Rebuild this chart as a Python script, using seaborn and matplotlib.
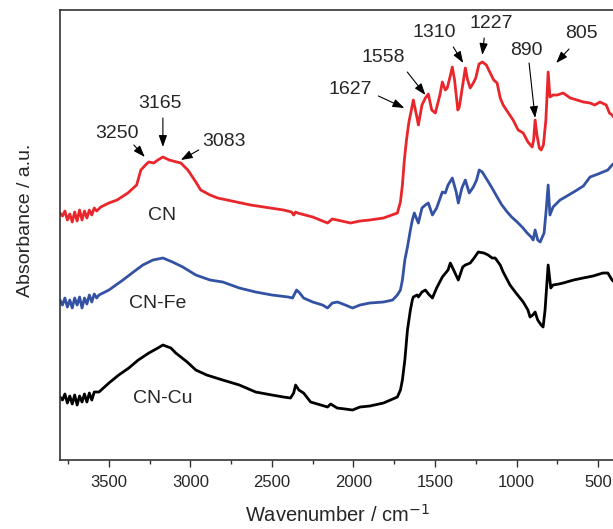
import matplotlib
matplotlib.use('Agg')
import matplotlib.pyplot as plt
import seaborn as sns

# CN spectrum
cn_wavenumber = [3800, 3785, 3770, 3755, 3740, 3725, 3710, 3695, 3680, 3665,
                 3650, 3635, 3620, 3605, 3590, 3575, 3550, 3500, 3450, 3384,
                 3330, 3304, 3270, 3255, 3225, 3200, 3169, 3130, 3084, 3059,
                 3016, 2967, 2937, 2880, 2833, 2631, 2429, 2380, 2367, 2355,
                 2343, 2250, 2159, 2130, 2100, 2018, 1960, 1900, 1816, 1731,
                 1712, 1700, 1688, 1675, 1660, 1645, 1633, 1610, 1602, 1580,
                 1559, 1541, 1520, 1498, 1470, 1455, 1437, 1425, 1405, 1394,
                 1380, 1360, 1351, 1330, 1314, 1300, 1284, 1265, 1250, 1230,
                 1210, 1185, 1161, 1140, 1119, 1100, 1082, 1050, 1021, 990,
                 959, 930, 904, 895, 886, 875, 860, 849, 835, 820,
                 806, 795, 776, 750, 714, 670, 629, 590, 549, 520,
                 488, 450, 430, 414, 400]
cn_absorbance = [2.47, 2.44, 2.49, 2.40, 2.46, 2.38, 2.48, 2.39, 2.50, 2.40,
                 2.49, 2.42, 2.50, 2.45, 2.52, 2.49, 2.53, 2.57, 2.60, 2.67,
                 2.75, 2.90, 2.96, 2.98, 2.97, 3.00, 3.03, 3.00, 2.98, 2.97,
                 2.90, 2.78, 2.70, 2.65, 2.62, 2.55, 2.50, 2.48, 2.45, 2.48,
                 2.47, 2.43, 2.37, 2.41, 2.40, 2.37, 2.39, 2.40, 2.42, 2.47,
                 2.58, 2.75, 3.00, 3.20, 3.38, 3.50, 3.60, 3.42, 3.35, 3.55,
                 3.62, 3.66, 3.50, 3.47, 3.65, 3.78, 3.70, 3.72, 3.85, 3.93,
                 3.80, 3.50, 3.53, 3.75, 3.92, 3.80, 3.72, 3.77, 3.82, 3.96,
                 3.98, 3.95, 3.87, 3.80, 3.77, 3.62, 3.55, 3.47, 3.40, 3.30,
                 3.27, 3.18, 3.13, 3.20, 3.40, 3.25, 3.12, 3.10, 3.15, 3.40,
                 3.88, 3.63, 3.65, 3.65, 3.67, 3.62, 3.60, 3.58, 3.57, 3.55,
                 3.58, 3.55, 3.47, 3.45, 3.42]

# CN-Fe spectrum
fe_wavenumber = [3800, 3785, 3770, 3755, 3740, 3725, 3710, 3695, 3680, 3665,
                 3650, 3635, 3620, 3605, 3590, 3575, 3561, 3500, 3414, 3350,
                 3292, 3230, 3169, 3110, 3047, 2967, 2880, 2802, 2700, 2600,
                 2500, 2400, 2374, 2349, 2330, 2306, 2250, 2190, 2159, 2130,
                 2098, 2050, 2006, 1960, 1900, 1816, 1760, 1731, 1712, 1700,
                 1685, 1669, 1651, 1639, 1627, 1602, 1580, 1559, 1541, 1516,
                 1490, 1455, 1437, 1420, 1394, 1370, 1357, 1335, 1314, 1290,
                 1265, 1245, 1229, 1210, 1180, 1150, 1119, 1090, 1057, 1030,
                 996, 960, 935, 910, 898, 886, 870, 855, 831, 818,
                 806, 795, 776, 733, 680, 629, 590, 549, 500, 470,
                 440, 414, 400]
fe_absorbance = [1.60, 1.55, 1.62, 1.53, 1.60, 1.52, 1.62, 1.55, 1.63, 1.52,
                 1.62, 1.56, 1.65, 1.58, 1.66, 1.62, 1.65, 1.70, 1.80, 1.88,
                 1.95, 2.00, 2.02, 1.98, 1.93, 1.85, 1.80, 1.78, 1.72, 1.68,
                 1.65, 1.63, 1.62, 1.70, 1.67, 1.62, 1.58, 1.55, 1.52, 1.57,
                 1.58, 1.55, 1.52, 1.55, 1.57, 1.58, 1.60, 1.65, 1.70, 1.80,
                 2.00, 2.13, 2.30, 2.40, 2.47, 2.37, 2.52, 2.55, 2.57, 2.45,
                 2.52, 2.68, 2.67, 2.75, 2.82, 2.68, 2.57, 2.72, 2.80, 2.67,
                 2.73, 2.80, 2.90, 2.88, 2.80, 2.72, 2.63, 2.55, 2.48, 2.43,
                 2.38, 2.32, 2.27, 2.23, 2.20, 2.30, 2.20, 2.18, 2.27, 2.50,
                 2.75, 2.45, 2.53, 2.60, 2.65, 2.70, 2.74, 2.83, 2.86, 2.88,
                 2.90, 2.95, 2.97]

# CN-Cu spectrum
cu_wavenumber = [3800, 3785, 3770, 3755, 3740, 3725, 3710, 3695, 3680, 3665,
                 3650, 3635, 3620, 3605, 3590, 3561, 3500, 3440, 3378, 3320,
                 3255, 3200, 3169, 3120, 3090, 3020, 2967, 2900, 2802, 2700,
                 2600, 2500, 2429, 2386, 2367, 2355, 2335, 2306, 2263, 2200,
                 2159, 2140, 2100, 2050, 2006, 1960, 1900, 1816, 1731, 1712,
                 1700, 1685, 1669, 1651, 1639, 1633, 1610, 1602, 1580, 1559,
                 1540, 1516, 1490, 1455, 1420, 1406, 1380, 1357, 1330, 1314,
                 1284, 1260, 1235, 1200, 1174, 1150, 1131, 1100, 1082, 1040,
                 1008, 959, 930, 917, 900, 886, 870, 849, 837, 825,
                 806, 790, 776, 740, 714, 650, 592, 530, 470, 440,
                 414, 400]
cu_absorbance = [0.63, 0.60, 0.66, 0.57, 0.64, 0.56, 0.65, 0.55, 0.64, 0.58,
                 0.66, 0.58, 0.67, 0.60, 0.68, 0.68, 0.77, 0.85, 0.92, 1.00,
                 1.07, 1.12, 1.15, 1.12, 1.07, 0.98, 0.90, 0.85, 0.80, 0.75,
                 0.68, 0.65, 0.63, 0.62, 0.67, 0.75, 0.70, 0.67, 0.58, 0.55,
                 0.53, 0.56, 0.52, 0.51, 0.50, 0.53, 0.54, 0.57, 0.63, 0.70,
                 0.80, 1.00, 1.30, 1.50, 1.60, 1.63, 1.65, 1.63, 1.68, 1.70,
                 1.66, 1.62, 1.72, 1.83, 1.90, 1.97, 1.88, 1.80, 1.93, 1.95,
                 1.97, 2.02, 2.08, 2.07, 2.05, 2.02, 2.02, 1.95, 1.88, 1.75,
                 1.68, 1.58, 1.50, 1.43, 1.45, 1.48, 1.40, 1.35, 1.33, 1.50,
                 1.95, 1.72, 1.75, 1.76, 1.77, 1.80, 1.82, 1.84, 1.87, 1.87,
                 1.80, 1.78]

sample_names = ["CN", "CN-Fe", "CN-Cu"]
peak_labels = ["3250", "3165", "3083", "1627", "1558", "1310", "1227", "890", "805"]
major_ticks = [3500, 3000, 2500, 2000, 1500, 1000, 500]

# layout for peak labels: (text x, text y, arrow tail x, tail y, head x, head y)
peak_layout = [
    (3451, 3.27, 3347, 3.15, 3280, 3.03),
    (3188, 3.57, 3169, 3.42, 3169, 3.13),
    (2796, 3.19, 2949, 3.10, 3059, 3.00),
    (2018, 3.71, 1847, 3.64, 1688, 3.52),
    (1816, 4.03, 1670, 3.88, 1559, 3.65),
    (1504, 4.27, 1388, 4.13, 1327, 3.97),
    (1155, 4.36, 1198, 4.22, 1210, 4.05),
    (941, 4.09, 923, 3.97, 886, 3.42),
    (604, 4.26, 678, 4.11, 757, 3.97),
]
name_layout = [(3176, 2.45), (3200, 1.57), (3169, 0.62)]

sns.set_style("white")
plt.rcParams['font.family'] = ['Liberation Sans', 'DejaVu Sans']

fig = plt.figure(figsize=(6.13, 5.29), dpi=100)
ax = fig.add_axes([0.0979, 0.1304, 0.9043, 0.8507])

series = [
    (cn_wavenumber, cn_absorbance, "#e8262b"),
    (fe_wavenumber, fe_absorbance, "#3352a3"),
    (cu_wavenumber, cu_absorbance, "#000000"),
]
for wn, ab, color in series:
    sns.lineplot(x=wn, y=ab, color=color, linewidth=2.0, estimator=None, ax=ax)

ax.set_xlim(3800, 400)
ax.set_ylim(0, 4.5)
ax.set_yticks([])
ax.set_xticks(major_ticks)
ax.set_xticks([3750, 3250, 2750, 2250, 1750, 1250, 750], minor=True)
ax.tick_params(axis='x', which='both', bottom=True, direction='out',
               color='#333333', width=1.0)
ax.tick_params(axis='x', which='major', length=5, labelsize=12, pad=5.5)
ax.tick_params(axis='x', which='minor', length=3)

for side in ['left', 'bottom', 'top', 'right']:
    ax.spines[side].set_color('#333333')
    ax.spines[side].set_linewidth(1.2)

ax.set_xlabel("Wavenumber / cm$^{-1}$", fontsize=14.5, va='center')
ax.xaxis.set_label_coords(0.5, -0.122)
ax.set_ylabel("Absorbance / a.u.", fontsize=14, va='center')
ax.yaxis.set_label_coords(-0.063, 0.533)

for label, (tx, ty, ax0, ay0, hx, hy) in zip(peak_labels, peak_layout):
    ax.text(tx, ty, label, fontsize=14, ha='center', va='center')
    ax.annotate("", xy=(hx, hy), xytext=(ax0, ay0),
                arrowprops=dict(arrowstyle='-|>,head_length=0.7,head_width=0.25',
                                color='black', lw=0.8, shrinkA=0, shrinkB=0))

for name, (nx, ny) in zip(sample_names, name_layout):
    ax.text(nx, ny, name, fontsize=14, ha='center', va='center')

fig.savefig("out.png", dpi=100)
plt.close(fig)
